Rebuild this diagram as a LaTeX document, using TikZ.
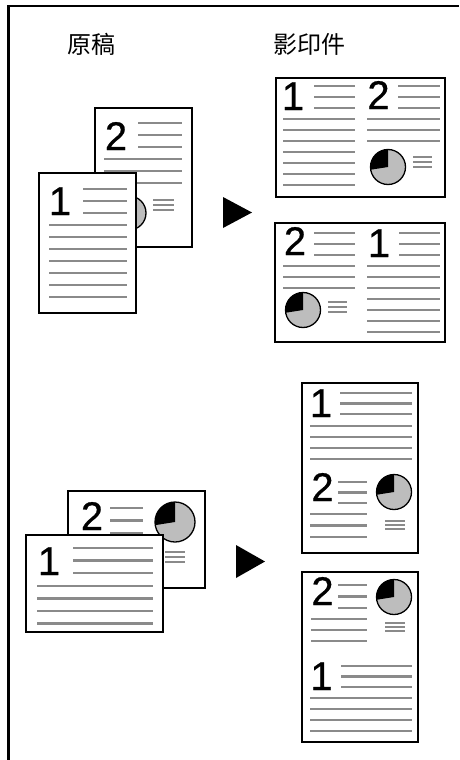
\documentclass[tikz,border=0pt]{standalone}
\usepackage{fontspec}
\setmainfont{Liberation Sans}
\newfontfamily\digfont[FakeBold=0.6]{Liberation Sans}
\newfontfamily\cjk{Noto Sans CJK TC}
\definecolor{lgray}{HTML}{8A8A8A}
\definecolor{pgray}{HTML}{BDBDBD}
\tikzset{
  pagebox/.style={draw=black, line width=2.5pt, fill=white},
  tl/.style={draw=lgray, line width=2.7pt},
  sl/.style={draw=lgray, line width=1.8pt},
  dig/.style={inner sep=0pt, anchor=base, font=\digfont\fontsize{40}{40}\selectfont},
  lbl/.style={inner sep=0pt, font=\cjk\fontsize{24}{24}\selectfont},
  tri/.style={fill=black}
}
\newcommand\tlines[5]{\foreach \k in {1,...,#5}{\draw[tl] (#1,{-#3-(\k-1)*#4}) -- (#2,{-#3-(\k-1)*#4});}}
\newcommand\slines[4]{\foreach \k in {1,2,3}{\draw[sl] (#1,{-#3-(\k-1)*#4}) -- (#2,{-#3-(\k-1)*#4});}}
\newcommand\piechart[3]{%
  \fill[pgray] (#1,-#2) circle (#3);
  \fill[black] (#1,-#2) -- ++(90:#3) arc[start angle=90, end angle=189, radius=#3] -- cycle;
  \draw[line width=1.3pt] (#1,-#2) circle (#3);}
\begin{document}
\begin{tikzpicture}[x=1pt,y=1pt]
\useasboundingbox (0,0) rectangle (459,-760);
% frame
\draw[line width=2.6pt] (8.3,-760) -- (8.3,-6) -- (459,-6);
% labels
\node[lbl] (orig) at (91,-44) {原稿};
\node[lbl] (copy) at (309,-44) {影印件};

% ===== top-left originals =====
\draw[pagebox] (95,-108) rectangle (192,-247);
\node[dig] (tl2) at (116,-150) {2};
\tlines{138}{182}{123}{12}{3}
\tlines{104}{182}{159}{12}{3}
\piechart{129}{213}{17}
\slines{153}{174}{200}{5}
\draw[pagebox] (39,-173) rectangle (136,-313);
\node[dig] (tl1) at (60,-215) {1};
\tlines{83}{127}{189}{12}{3}
\tlines{49}{127}{225}{12}{7}

% top arrow
\fill[tri] (223,-197) -- (252,-212.5) -- (223,-228) -- cycle;

% ===== top-right copy A =====
\draw[pagebox] (276,-78) rectangle (445,-197);
\node[dig] (a1) at (293,-110) {1};
\tlines{314}{355}{86}{11}{3}
\tlines{283}{355}{119}{11}{7}
\node[dig] (a2) at (378.5,-109) {2};
\tlines{398}{440}{86}{11}{3}
\tlines{367}{440}{119}{11}{3}
\piechart{388}{167}{17.5}
\slines{413}{432}{157}{5}

% ===== top-right copy B =====
\draw[pagebox] (275,-223) rectangle (445,-342);
\node[dig] (b2) at (295,-255) {2};
\tlines{314}{355}{233}{11}{3}
\tlines{283}{355}{266}{11}{3}
\piechart{303}{310}{17.5}
\slines{328}{347}{302}{5}
\node[dig] (b1) at (379,-257) {1};
\tlines{399}{440}{233}{11}{3}
\tlines{367}{440}{266}{11}{7}

% ===== bottom-left originals =====
\draw[pagebox] (68,-491) rectangle (205,-588);
\node[dig] (bl2) at (92,-530) {2};
\tlines{110}{143}{508}{12.5}{3}
\piechart{175}{522}{20}
\slines{165}{185}{552}{5}
\draw[pagebox] (26,-535) rectangle (163,-632);
\node[dig] (bl1) at (49,-575) {1};
\tlines{73}{153}{548}{12.5}{3}
\tlines{37}{153}{586}{12.5}{4}

% bottom arrow
\fill[tri] (236,-545) -- (265,-561.5) -- (236,-578) -- cycle;

% ===== bottom-right copy C =====
\draw[pagebox] (302,-383) rectangle (418,-553);
\node[dig] (c1) at (321,-417) {1};
\tlines{340}{412}{393}{10.5}{3}
\tlines{310}{412}{426}{11}{4}
\node[dig] (c2) at (322.5,-501) {2};
\tlines{338}{367}{482}{10.5}{3}
\tlines{310}{367}{514}{11.5}{3}
\piechart{394}{492}{17.5}
\slines{385}{405}{521}{4}

% ===== bottom-right copy D =====
\draw[pagebox] (302,-572) rectangle (418,-742);
\node[dig] (d2) at (322.5,-605) {2};
\tlines{338}{367}{585}{11.5}{3}
\tlines{311}{367}{619}{11}{3}
\piechart{394}{597}{17.5}
\slines{385}{405}{623}{4}
\node[dig] (d1) at (321.5,-690) {1};
\tlines{341}{412}{666}{10.5}{3}
\tlines{310}{412}{698}{11}{4}
\end{tikzpicture}
\end{document}
